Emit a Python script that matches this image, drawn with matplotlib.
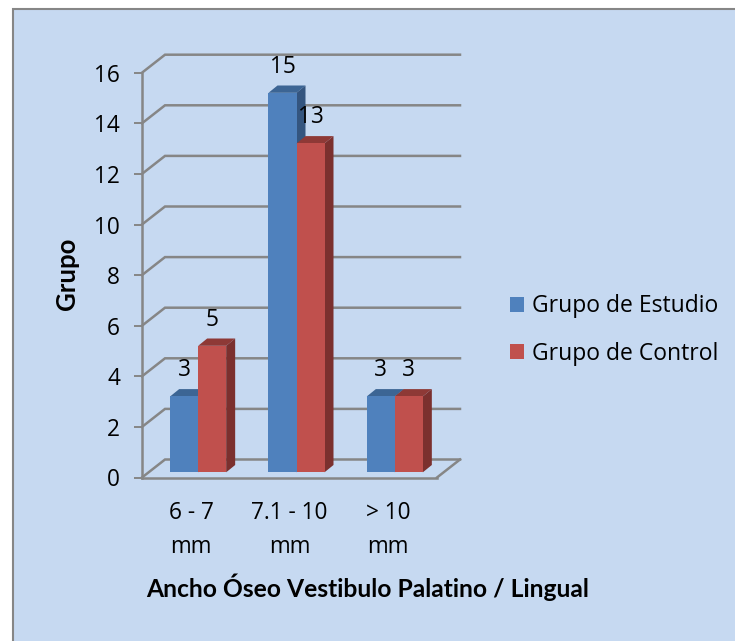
import numpy as np
import matplotlib
matplotlib.use("Agg")
import matplotlib.pyplot as plt
from matplotlib.patches import Polygon, Rectangle

# Values
categories = ["6 - 7\nmm", "7.1 - 10\nmm", "> 10\nmm"]
estudio = [3, 15, 3]
control = [5, 13, 3]
series_names = ["Grupo de Estudio", "Grupo de Control"]
y_ticks = [0, 2, 4, 6, 8, 10, 12, 14, 16]

W, H = 735, 641
BG = "#C6D9F1"
GREY = "#868686"

# pixel sizes of the fake 3D look, converted to data units below
px_x = 98.33
px_y = 25.3
wall_dx, wall_dy = 23 / px_x, 18 / px_y
base_dx, base_dy = 7 / px_x, 5.2 / px_y
side_dx, side_dy = 9 / px_x, 7.3 / px_y
bar_w = 28 / px_x

plt.rcParams["font.family"] = ["Open Sans", "DejaVu Sans"]

fig = plt.figure(figsize=(W / 100, H / 100), dpi=100, facecolor="white")
fig.add_artist(Rectangle((12.5 / W, -0.02), 1.0, 1 - 8.5 / H + 0.02, transform=fig.transFigure,
                         facecolor=BG, edgecolor=GREY, linewidth=1.5, zorder=-1))

ax = fig.add_axes([142 / W, (H - 477.5) / H, 295 / W, 404.8 / H])
ax.patch.set_alpha(0)
ax.set_xlim(0, 3)
ax.set_ylim(0, 16)

for s in ["top", "right"]:
    ax.spines[s].set_visible(False)
for s in ["left", "bottom"]:
    ax.spines[s].set_color(GREY)
    ax.spines[s].set_linewidth(1.8)

# back wall and floor
for v in y_ticks:
    ax.plot([0, wall_dx, 3 + wall_dx], [v, v + wall_dy, v + wall_dy], color=GREY, lw=1.8,
            clip_on=False, zorder=1, solid_joinstyle="miter")
ax.plot([3, 3 + wall_dx], [0, wall_dy], color=GREY, lw=1.8, clip_on=False, zorder=1)


def draw_series(x_left, values, front, top, side, name, z):
    bars = ax.bar(x_left + base_dx, values, width=bar_w, bottom=base_dy, align="edge",
                  color=front, label=name, zorder=z + 1, linewidth=0)
    for x, v in zip(x_left, values):
        x0 = x + base_dx
        x1 = x0 + bar_w
        y0 = base_dy
        y1 = v + base_dy
        ax.add_patch(Polygon([(x0, y1), (x1, y1), (x1 + side_dx, y1 + side_dy), (x0 + side_dx, y1 + side_dy)],
                             facecolor=top, edgecolor="none", zorder=z, clip_on=False))
        ax.add_patch(Polygon([(x1, y0), (x1 + side_dx, y0 + side_dy), (x1 + side_dx, y1 + side_dy), (x1, y1)],
                             facecolor=side, edgecolor="none", zorder=z, clip_on=False))
        ax.text(x0 + bar_w / 2, y1 + 26 / px_y, str(v), ha="center", va="center",
                fontsize=16.3, color="black", zorder=10, clip_on=False)
    return bars


centers = np.arange(len(categories)) + 0.5
draw_series(centers - bar_w, estudio, "#4F81BD", "#3C6594", "#34557F", series_names[0], 2)
draw_series(centers, control, "#C0504D", "#8E3936", "#7B302E", series_names[1], 4)

ax.set_yticks(y_ticks)
ax.set_xticks(centers)
ax.set_xticklabels(categories, fontsize=16.3, linespacing=1.57)
ax.tick_params(axis="y", length=5.8, width=1.4, color=GREY, labelsize=16.3, pad=10)
ax.tick_params(axis="x", length=0, pad=17)

fig.text(67 / W, 1 - 274 / H, "Grupo", rotation=90, ha="center", va="center",
         fontsize=18.5, fontweight="bold", family="Lato")
fig.text(368 / W, 1 - 587 / H, "Ancho Óseo Vestibulo Palatino / Lingual", ha="center", va="center",
         fontsize=17.7, fontweight="bold", family="Lato")

handles, labels = ax.get_legend_handles_labels()
fig.legend(handles, labels, loc="center left", bbox_to_anchor=(510 / W, 1 - 330 / H), frameon=False,
           fontsize=16.5, handlelength=0.62, handleheight=0.62, handletextpad=0.33, labelspacing=1.03,
           borderpad=0, borderaxespad=0)

fig.savefig("out.png", dpi=100)
